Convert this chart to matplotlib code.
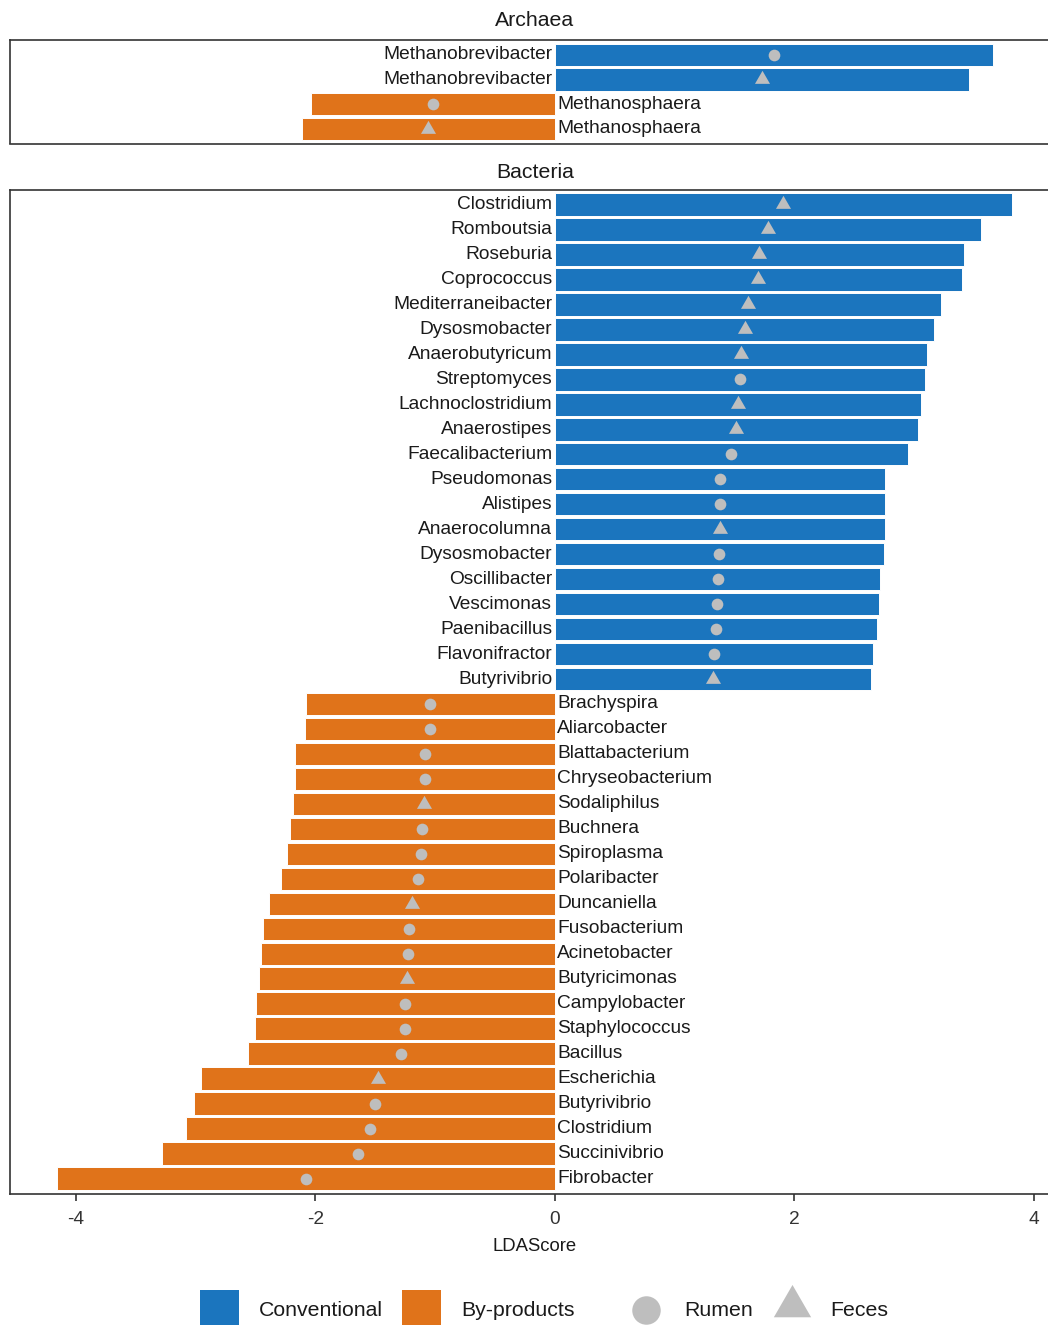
import numpy as np
import matplotlib
matplotlib.use("Agg")
import matplotlib.pyplot as plt
from matplotlib.path import Path
from matplotlib.patches import Rectangle
from matplotlib.lines import Line2D

plt.rcParams["font.family"] = ["Liberation Sans", "DejaVu Sans"]

# ---- data -------------------------------------------------------------
archaea_genus = ["Methanobrevibacter", "Methanobrevibacter",
                 "Methanosphaera", "Methanosphaera"]
archaea_lda = [3.66, 3.46, -2.04, -2.11]
archaea_site = ["Rumen", "Feces", "Rumen", "Feces"]

bacteria_genus = [
    "Clostridium", "Romboutsia", "Roseburia", "Coprococcus",
    "Mediterraneibacter", "Dysosmobacter", "Anaerobutyricum", "Streptomyces",
    "Lachnoclostridium", "Anaerostipes", "Faecalibacterium", "Pseudomonas",
    "Alistipes", "Anaerocolumna", "Dysosmobacter", "Oscillibacter",
    "Vescimonas", "Paenibacillus", "Flavonifractor", "Butyrivibrio",
    "Brachyspira", "Aliarcobacter", "Blattabacterium", "Chryseobacterium",
    "Sodaliphilus", "Buchnera", "Spiroplasma", "Polaribacter",
    "Duncaniella", "Fusobacterium", "Acinetobacter", "Butyricimonas",
    "Campylobacter", "Staphylococcus", "Bacillus", "Escherichia",
    "Butyrivibrio", "Clostridium", "Succinivibrio", "Fibrobacter",
]
bacteria_lda = [
    3.82, 3.56, 3.42, 3.40, 3.23, 3.17, 3.11, 3.09, 3.06, 3.03,
    2.95, 2.76, 2.76, 2.755, 2.75, 2.72, 2.71, 2.69, 2.66, 2.64,
    -2.08, -2.09, -2.17, -2.17, -2.19, -2.21, -2.24, -2.29, -2.39, -2.44,
    -2.455, -2.47, -2.495, -2.50, -2.565, -2.955, -3.01, -3.08, -3.28, -4.16,
]
bacteria_site = [
    "Feces", "Feces", "Feces", "Feces", "Feces", "Feces", "Feces", "Rumen",
    "Feces", "Feces", "Rumen", "Rumen", "Rumen", "Feces", "Rumen", "Rumen",
    "Rumen", "Rumen", "Rumen", "Feces",
    "Rumen", "Rumen", "Rumen", "Rumen", "Feces", "Rumen", "Rumen", "Rumen",
    "Feces", "Rumen", "Rumen", "Feces", "Rumen", "Rumen", "Rumen", "Feces",
    "Rumen", "Rumen", "Rumen", "Rumen",
]

x_ticks = [-4, -2, 0, 2, 4]
group_labels = ["Conventional", "By-products"]
site_labels = ["Rumen", "Feces"]

# ---- style ------------------------------------------------------------
group_colors = {"Conventional": "#1B75BE", "By-products": "#E0731A"}
point_color = "#BEBEBE"
frame_color = "#333333"

# equilateral triangle, centred on its centroid
tri = Path([(0, 0.577), (-0.5, -0.289), (0.5, -0.289), (0, 0.577)],
           [Path.MOVETO, Path.LINETO, Path.LINETO, Path.CLOSEPOLY])
site_marker = {"Rumen": ("o", 8.4), "Feces": (tri, 12.5)}

W, H = 1048, 1325
fig = plt.figure(figsize=(W / 100, H / 100), dpi=100)

x_left, x_right = -4.55, 4.22
px_left, px_right = 10, 1060


def panel(top_px, bottom_px, genus, lda, site, show_x):
    ax = fig.add_axes([px_left / W, 1 - bottom_px / H,
                       (px_right - px_left) / W, (bottom_px - top_px) / H])
    n = len(genus)
    y = np.arange(n)
    vals = np.asarray(lda)
    colors = [group_colors["Conventional"] if v > 0 else group_colors["By-products"]
              for v in vals]
    ax.barh(y, vals, height=0.9, color=colors, edgecolor="white",
            linewidth=0.7, zorder=2)
    for yi, v, s in zip(y, vals, site):
        m, ms = site_marker[s]
        ax.plot(v / 2, yi, marker=m, markersize=ms, color=point_color,
                markeredgewidth=0, linestyle="none", zorder=3)
    for yi, v, g in zip(y, vals, genus):
        if v > 0:
            ax.annotate(g, xy=(0, yi), xytext=(-2.5, 0), textcoords="offset pixels",
                        ha="right", va="center", fontsize=13.8, color="#1a1a1a")
        else:
            ax.annotate(g, xy=(0, yi), xytext=(2.5, 0), textcoords="offset pixels",
                        ha="left", va="center", fontsize=13.8, color="#1a1a1a")
    ax.set_xlim(x_left, x_right)
    ax.set_ylim(n - 1 + 0.6, -0.6)
    ax.set_yticks([])
    for sp in ax.spines.values():
        sp.set_color(frame_color)
        sp.set_linewidth(1.2)
    if show_x:
        ax.set_xticks(x_ticks)
        ax.set_xticklabels([str(t) for t in x_ticks])
        ax.tick_params(axis="x", length=5, width=1.2, color=frame_color,
                       labelsize=13.8, labelcolor="#333333", pad=7.5)
        ax.set_xlabel("LDAScore", fontsize=13.3, color="#1a1a1a", labelpad=7.5)
    else:
        ax.set_xticks([])
    return ax


ax_a = panel(40, 143.5, archaea_genus, archaea_lda, archaea_site, False)
ax_b = panel(189.5, 1193.5, bacteria_genus, bacteria_lda, bacteria_site, True)

cx = (px_left + px_right) / 2 / W
fig.text(cx, 1 - 21 / H, "Archaea", ha="center", va="center", fontsize=15.3,
         color="#1a1a1a")
fig.text(cx, 1 - 172 / H, "Bacteria", ha="center", va="center", fontsize=15.3,
         color="#1a1a1a")

# ---- legend -----------------------------------------------------------
lg = fig.add_axes([0, 0, 1, 1], zorder=5)
lg.set_xlim(0, W)
lg.set_ylim(H, 0)
lg.axis("off")
key_y = 1310
for (x0, label) in zip([200, 402], group_labels):
    lg.add_patch(Rectangle((x0, 1290), 39, 39, facecolor=group_colors[label],
                           edgecolor="none"))
    lg.text(x0 + 59, key_y, label, ha="left", va="center", fontsize=15.3,
            color="#1a1a1a")
lg.add_line(Line2D([646], [key_y], marker="o", markersize=20.5,
                   color=point_color, markeredgewidth=0, linestyle="none"))
lg.text(684, key_y, site_labels[0], ha="left", va="center", fontsize=15.3,
        color="#1a1a1a")
lg.add_line(Line2D([792], [1306], marker=tri, markersize=31,
                   color=point_color, markeredgewidth=0, linestyle="none"))
lg.text(830, key_y, site_labels[1], ha="left", va="center", fontsize=15.3,
        color="#1a1a1a")

fig.savefig("out.png", dpi=100)
